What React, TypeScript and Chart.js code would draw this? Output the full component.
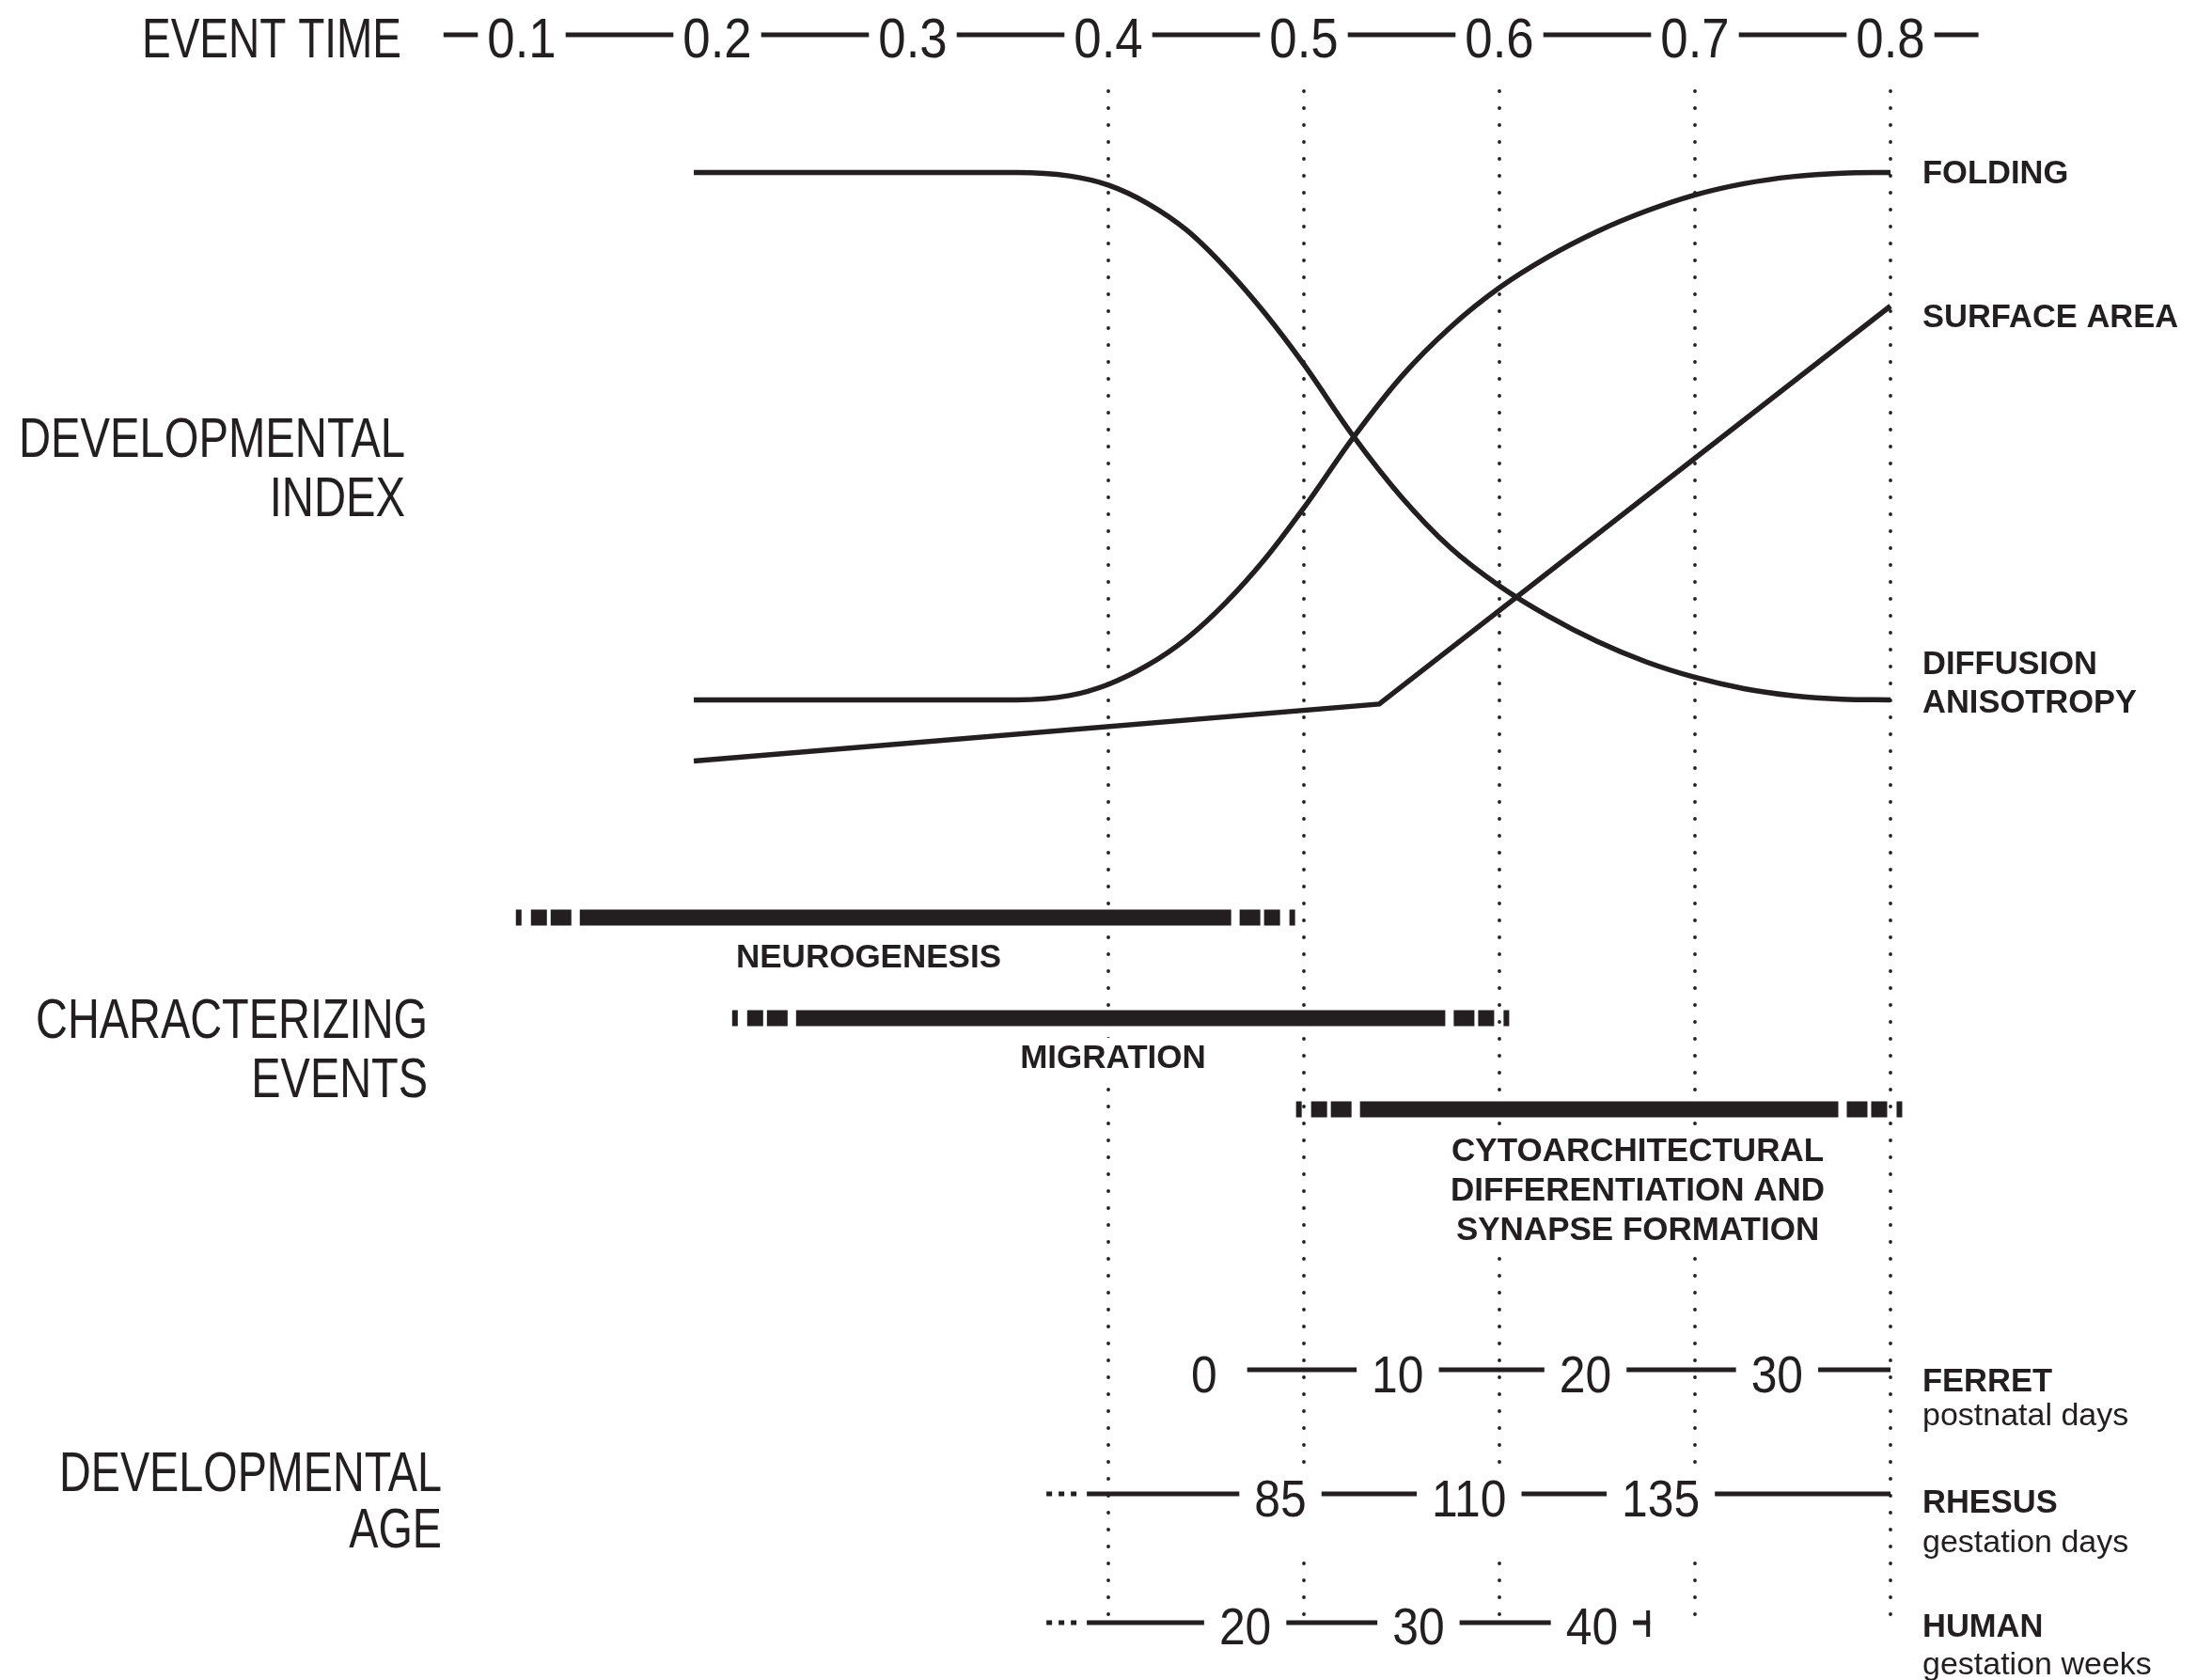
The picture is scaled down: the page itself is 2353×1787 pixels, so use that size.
import React, { useEffect, useRef } from "react";
import { Chart, registerables } from "chart.js";

Chart.register(...registerables);

const INK = "#231f20";
const FONT = '"Liberation Sans", Arial, Helvetica, sans-serif';

// ---- Event time axis ----
const eventTimeTicks = [0.1, 0.2, 0.3, 0.4, 0.5, 0.6, 0.7, 0.8];
const eventTimeAxisRange = [0.06, 0.845];
const guideTimes = [0.4, 0.5, 0.6, 0.7, 0.8];

// ---- Developmental index curves ----
const curveTimes = [0.188, 0.353, 0.38, 0.4, 0.42, 0.44, 0.46, 0.48, 0.5, 0.525, 0.55, 0.575, 0.6, 0.625, 0.65, 0.675, 0.7, 0.725, 0.75, 0.775, 0.8];
const foldingIndex = [20, 20, 20.6, 22.2, 24.9, 28.7, 33.8, 40.0, 47.3, 57.2, 66.0, 73.0, 78.6, 83.0, 86.6, 89.5, 91.8, 93.4, 94.4, 94.9, 95];
const diffusionIndex = [95, 95, 94.5, 93.2, 90.6, 86.8, 81.4, 75.0, 67.7, 57.6, 48.8, 41.6, 36.2, 31.9, 28.3, 25.4, 23.2, 21.6, 20.6, 20.1, 20];
const surfaceTimes = [0.188, 0.5385, 0.8];
const surfaceIndex = [11.3, 19.4, 76];
const curveNames = ["FOLDING", "SURFACE AREA", "DIFFUSION\nANISOTROPY"];

// ---- Characterizing events ----
const eventNames = ["NEUROGENESIS", "MIGRATION", "CYTOARCHITECTURAL\nDIFFERENTIATION AND\nSYNAPSE FORMATION"];
const eventStart = [0.097, 0.2076, 0.496];
const eventEnd = [0.4955, 0.605, 0.806];
const eventLabelTime = [0.2774, 0.4024, 0.6707];

// ---- Developmental age ----
const ferretDays = [0, 10, 20, 30];
const ferretTimes = [0.449, 0.548, 0.644, 0.742];
const ferretAxisRange = [0.471, 0.8];
const rhesusDays = [85, 110, 135];
const rhesusTimes = [0.488, 0.5845, 0.6825];
const rhesusAxisRange = [0.389, 0.8];
const humanWeeks = [20, 30, 40];
const humanTimes = [0.47, 0.5586, 0.6473];
const humanAxisRange = [0.389, 0.677];
const speciesNames = ["FERRET", "RHESUS", "HUMAN"];
const speciesUnits = ["postnatal days", "gestation days", "gestation weeks"];

type TextOpts = {
  size: number;
  weight?: string;
  align?: "left" | "center" | "right";
  sx?: number;
  fitWidth?: number;
  box?: { padX: number; top: number; bottom: number };
};

function drawText(ctx: CanvasRenderingContext2D, text: string, x: number, y: number, o: TextOpts): number {
  ctx.save();
  ctx.font = `${o.weight || "normal"} ${o.size}px ${FONT}`;
  const raw = ctx.measureText(text).width;
  const sx = o.fitWidth ? o.fitWidth / raw : o.sx || 1;
  const w = raw * sx;
  const align = o.align || "left";
  const left = align === "center" ? x - w / 2 : align === "right" ? x - w : x;
  if (o.box) {
    ctx.fillStyle = "#ffffff";
    ctx.fillRect(left - o.box.padX, y - o.box.top, w + 2 * o.box.padX, o.box.top + o.box.bottom);
  }
  ctx.fillStyle = INK;
  ctx.textAlign = "left";
  ctx.textBaseline = "alphabetic";
  ctx.translate(left, y);
  ctx.scale(sx, 1);
  ctx.fillText(text, 0, 0);
  ctx.restore();
  return sx;
}

function hLine(ctx: CanvasRenderingContext2D, x1: number, x2: number, y: number, w: number) {
  ctx.save();
  ctx.strokeStyle = INK;
  ctx.lineWidth = w;
  ctx.lineCap = "butt";
  ctx.beginPath();
  ctx.moveTo(x1, y);
  ctx.lineTo(x2, y);
  ctx.stroke();
  ctx.restore();
}

function eventBar(ctx: CanvasRenderingContext2D, s: number, e: number, y: number) {
  const t = 17;
  const top = y - t / 2;
  ctx.save();
  ctx.fillStyle = INK;
  const pieces: [number, number][] = [
    [0, 6],
    [16, 33],
    [37, 59],
  ];
  pieces.forEach(([a, b]) => {
    ctx.fillRect(s + a, top, b - a, t);
    ctx.fillRect(e - b, top, b - a, t);
  });
  ctx.fillRect(s + 68, top, e - s - 136, t);
  ctx.restore();
}

const diagramPlugin = {
  id: "diagram",
  beforeDatasetsDraw(chart: any) {
    const ctx: CanvasRenderingContext2D = chart.ctx;
    const xs = chart.scales.x;
    ctx.save();
    ctx.strokeStyle = INK;
    ctx.lineWidth = 3.8;
    ctx.lineCap = "round";
    ctx.setLineDash([0, 18]);
    guideTimes.forEach((t) => {
      const px = Math.round(xs.getPixelForValue(t));
      ctx.beginPath();
      ctx.moveTo(px, 97);
      ctx.lineTo(px, 1722);
      ctx.stroke();
    });
    ctx.restore();
  },
  afterDatasetsDraw(chart: any) {
    const ctx: CanvasRenderingContext2D = chart.ctx;
    const xs = chart.scales.x;
    const X = (v: number) => xs.getPixelForValue(v);

    // --- top event time axis ---
    hLine(ctx, X(eventTimeAxisRange[0]), X(eventTimeAxisRange[1]), 37, 4.8);
    eventTimeTicks.forEach((t) => {
      drawText(ctx, t.toFixed(1), X(t), 61, { size: 60, sx: 0.88, align: "center", box: { padX: 10, top: 50, bottom: 8 } });
    });
    drawText(ctx, "EVENT TIME", 427, 61, { size: 60, fitWidth: 276, align: "right" });

    // --- curve labels on the right ---
    const labelX = 2045;
    const curveLabelBase = [[195], [348], [717, 758]];
    curveNames.forEach((name, i) => {
      name.split("\n").forEach((ln, j) => {
        drawText(ctx, ln, labelX, curveLabelBase[i][j], { size: 34.5, weight: "bold" });
      });
    });

    // --- characterizing events ---
    const barY = [976, 1083, 1180];
    const labelBase = [1029, 1136, 1235];
    eventNames.forEach((name, i) => {
      eventBar(ctx, X(eventStart[i]), X(eventEnd[i]), barY[i]);
      name.split("\n").forEach((ln, j) => {
        drawText(ctx, ln, X(eventLabelTime[i]), labelBase[i] + j * 42, {
          size: 35,
          weight: "bold",
          align: "center",
          box: { padX: 6, top: 32, bottom: 12 },
        });
      });
    });

    // --- developmental age rows ---
    const rows = [
      { ticks: ferretDays, times: ferretTimes, range: ferretAxisRange, y: 1457, base: 1481, dots: false, endTick: false, boxTop: 45, boxBottom: 12 },
      { ticks: rhesusDays, times: rhesusTimes, range: rhesusAxisRange, y: 1589, base: 1613, dots: true, endTick: false, boxTop: 46, boxBottom: 40 },
      { ticks: humanWeeks, times: humanTimes, range: humanAxisRange, y: 1726, base: 1749, dots: true, endTick: true, boxTop: 45, boxBottom: 12 },
    ];
    rows.forEach((r) => {
      const x1 = X(r.range[0]);
      const x2 = X(r.range[1]);
      hLine(ctx, x1, x2, r.y, 5);
      if (r.dots) {
        ctx.save();
        ctx.fillStyle = INK;
        [-43, -30, -17].forEach((off) => ctx.fillRect(x1 + off, r.y - 2.5, 6, 5));
        ctx.restore();
      }
      if (r.endTick) {
        ctx.save();
        ctx.fillStyle = INK;
        ctx.fillRect(x2 - 4, r.y - 13, 4, 28);
        ctx.restore();
      }
      r.ticks.forEach((tk, i) => {
        drawText(ctx, String(tk), X(r.times[i]), r.base, {
          size: 56,
          sx: 0.89,
          align: "center",
          box: { padX: 16, top: r.boxTop, bottom: r.boxBottom },
        });
      });
    });
    const speciesBase = [1480, 1609, 1741];
    const unitBase = [1516, 1651, 1781];
    speciesNames.forEach((n, i) => {
      drawText(ctx, n, labelX, speciesBase[i], { size: 34.5, weight: "bold" });
      drawText(ctx, speciesUnits[i], labelX, unitBase[i], { size: 34 });
    });

    // --- left section titles ---
    const s1 = drawText(ctx, "DEVELOPMENTAL", 431, 486, { size: 60, fitWidth: 411, align: "right" });
    drawText(ctx, "INDEX", 431, 549, { size: 60, sx: s1, align: "right" });
    const s2 = drawText(ctx, "CHARACTERIZING", 455, 1104, { size: 60, fitWidth: 417, align: "right" });
    drawText(ctx, "EVENTS", 455, 1167, { size: 60, sx: s2, align: "right" });
    const s3 = drawText(ctx, "DEVELOPMENTAL", 470, 1586, { size: 60, fitWidth: 407, align: "right" });
    drawText(ctx, "AGE", 470, 1646, { size: 60, sx: s3, align: "right" });
  },
};

export default function App() {
  const canvasRef = useRef<HTMLCanvasElement | null>(null);

  useEffect(() => {
    document.body.style.margin = "0";
    document.body.style.background = "#ffffff";
    const canvas = canvasRef.current;
    if (!canvas) return;
    const toPts = (xs: number[], ys: number[]) => xs.map((x, i) => ({ x, y: ys[i] }));
    const lineStyle = {
      showLine: true,
      pointRadius: 0,
      borderColor: INK,
      backgroundColor: INK,
      borderWidth: 5.5,
      fill: false,
      clip: false as any,
    };
    const chart = new Chart(canvas, {
      type: "scatter",
      data: {
        datasets: [
          { label: "Folding", data: toPts(curveTimes, foldingIndex), cubicInterpolationMode: "monotone", ...lineStyle } as any,
          { label: "Diffusion anisotropy", data: toPts(curveTimes, diffusionIndex), cubicInterpolationMode: "monotone", ...lineStyle } as any,
          { label: "Surface area", data: toPts(surfaceTimes, surfaceIndex), tension: 0, ...lineStyle } as any,
        ],
      },
      options: {
        responsive: false,
        animation: false,
        devicePixelRatio: 1,
        events: [],
        layout: { padding: { left: 451, right: 134, top: 146, bottom: 893 } },
        plugins: {
          legend: { display: false },
          tooltip: { enabled: false },
          title: { display: false },
        },
        scales: {
          x: { type: "linear", display: false, min: 0.05, max: 0.9 },
          y: { type: "linear", display: false, min: 0, max: 100 },
        },
      },
      plugins: [diagramPlugin],
    });
    return () => chart.destroy();
  }, []);

  return (
    <div style={{ position: "absolute", left: 0, top: 0, width: 2353, height: 1787, background: "#ffffff" }}>
      <canvas ref={canvasRef} width={2353} height={1787} style={{ display: "block", width: 2353, height: 1787 }} />
    </div>
  );
}
